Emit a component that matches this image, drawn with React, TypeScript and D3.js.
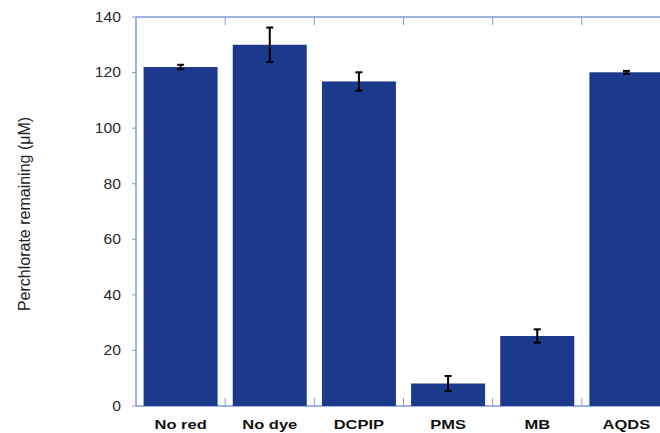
import React from "react";
import * as d3 from "d3";

const categories = ["No red", "No dye", "DCPIP", "PMS", "MB", "AQDS"];
const values = [122, 130, 116.8, 8.1, 25.2, 120.1];
const errors = [0.8, 6.2, 3.3, 2.7, 2.4, 0.5];
const yTicks = [0, 20, 40, 60, 80, 100, 120, 140];

export default function App() {
  const W = 660, H = 433;
  const left = 136, right = 671, top = 17, bottom = 406;
  const x = d3.scaleBand<string>().domain(categories).range([left, right]).paddingInner(0.17).paddingOuter(0.085);
  const y = d3.scaleLinear().domain([0, 140]).range([bottom, top]);
  const step = (right - left) / categories.length;
  const axisColor = "#7f9bd6";
  const barColor = "#1c3a8c";
  return (
    <svg width={W} height={H} style={{ position: "absolute", left: 0, top: 0, background: "#fff" }}
      fontFamily="Liberation Sans, Arial, sans-serif">
      <line x1={left} x2={W} y1={top} y2={top} stroke={axisColor} strokeWidth={1.5} />
      <line x1={left} x2={W} y1={bottom} y2={bottom} stroke={axisColor} strokeWidth={1.5} />
      <line x1={left} x2={left} y1={top} y2={bottom} stroke={axisColor} strokeWidth={1.5} />
      {categories.slice(1).map((c, i) => {
        const xx = left + step * (i + 1);
        return (
          <g key={c}>
            <line x1={xx} x2={xx} y1={bottom} y2={bottom - 8} stroke={axisColor} strokeWidth={1} />
            <line x1={xx} x2={xx} y1={top} y2={top + 8} stroke={axisColor} strokeWidth={1} />
          </g>
        );
      })}
      {yTicks.map((t) => (
        <g key={t}>
          <line x1={left - 4} x2={left} y1={y(t)} y2={y(t)} stroke={axisColor} strokeWidth={1} />
          <text transform={`translate(121,${y(t)}) scale(1.12,1)`} dy="0.35em" textAnchor="end" fontSize={14} fill="#2a2a2a">{t}</text>
        </g>
      ))}
      {categories.map((c, i) => {
        const bx = x(c)!;
        const bw = x.bandwidth();
        const cx = bx + bw / 2;
        const v = values[i], e = errors[i];
        return (
          <g key={c}>
            <rect x={bx} y={y(v)} width={bw} height={bottom - y(v)} fill={barColor} />
            <line x1={cx} x2={cx} y1={y(v + e)} y2={y(v - e)} stroke="#000" strokeWidth={2} />
            <line x1={cx - 3.5} x2={cx + 3.5} y1={y(v + e)} y2={y(v + e)} stroke="#000" strokeWidth={2} />
            <line x1={cx - 3.5} x2={cx + 3.5} y1={y(v - e)} y2={y(v - e)} stroke="#000" strokeWidth={2} />
            <text transform={`translate(${cx},429) scale(1.27,1)`} textAnchor="middle" fontSize={13} fontWeight="bold" fill="#111">{c}</text>
          </g>
        );
      })}
      <text transform={`translate(30,214) rotate(-90)`} textAnchor="middle" fontSize={16} fill="#222">
        Perchlorate remaining (μM)
      </text>
    </svg>
  );
}
